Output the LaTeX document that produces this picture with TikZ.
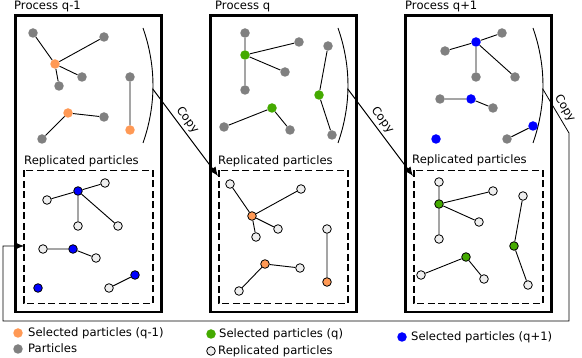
\documentclass[tikz,border=0pt]{standalone}
\usepackage{fontspec}
\setmainfont{DejaVu Sans}
\usetikzlibrary{arrows.meta}
\definecolor{selq1}{RGB}{255,153,85}
\definecolor{selq}{RGB}{68,170,0}
\definecolor{selqp}{RGB}{0,0,255}
\definecolor{partgray}{RGB}{128,128,128}
\definecolor{repwhite}{RGB}{238,238,238}
\begin{document}
\begin{tikzpicture}[x=1pt,y=-1pt,
  font=\fontsize{11.6}{14}\selectfont,
  dot/.style={circle,inner sep=0pt,minimum size=9.5pt},
  gp/.style={dot,fill=partgray},
  op/.style={dot,fill=selq1},
  gnp/.style={dot,fill=selq},
  bp/.style={dot,fill=selqp},
  rw/.style={circle,inner sep=0pt,minimum size=8.6pt,draw=black,line width=0.8pt,fill=repwhite},
  ro/.style={rw,fill=selq1},
  rg/.style={rw,fill=selq},
  rb/.style={rw,fill=selqp},
  link/.style={line width=0.9pt},
  frame/.style={line width=2.7pt},
  repbox/.style={line width=1.8pt,dash pattern=on 7pt off 3.5pt},
  arcline/.style={line width=0.9pt},
  copyline/.style={line width=1pt,-{Latex[length=9pt,width=7.5pt]}},
  retline/.style={line width=0.8pt,draw=black,-{Latex[length=9pt,width=7.5pt]}},
  lbl/.style={anchor=base west,inner sep=0pt},
  copylbl/.style={sloped,above,inner sep=3pt}
]
\useasboundingbox (0,0) rectangle (582,358);

% frames
\draw[frame] (15.3,15.3) rectangle (161.3,312);
\draw[repbox] (23.8,170.5) rectangle (152.8,303.5);
\draw[frame] (210.3,15.3) rectangle (356.3,312);
\draw[repbox] (218.8,170.5) rectangle (347.8,303.5);
\draw[frame] (405.3,15.3) rectangle (551.3,312);
\draw[repbox] (413.8,170.5) rectangle (542.8,303.5);

% labels
\node[lbl] (t1) at (14,9.5) {Process q-1};
\node[lbl] (t2) at (215,9.5) {Process q};
\node[lbl] (t3) at (405,9.5) {Process q+1};
\node[lbl] (r1l) at (24,165) {Replicated particles};
\node[lbl] (r2l) at (218,164.5) {Replicated particles};
\node[lbl] (r3l) at (412,163.5) {Replicated particles};

% arcs
\draw[arcline] (143,28) .. controls (156.3,66) and (156.3,105) .. (143,143);
\draw[arcline] (338,28) .. controls (351.3,66) and (351.3,105) .. (338,143);
\draw[arcline] (533,28) .. controls (546.3,66) and (546.3,105) .. (533,143);
\coordinate (cs1) at (152.8,89);
\coordinate (cs2) at (347.8,89);
\coordinate (cs3) at (542.8,89);
\coordinate (ct2) at (218,176);
\coordinate (ct3) at (413,176);
\coordinate (rb1) at (569,133);
\coordinate (rb2) at (569,321);
\coordinate (rb3) at (3,321);
\coordinate (rb4) at (3,246);
\coordinate (ct1) at (24,246);

\draw[copyline] (cs1) -- node[copylbl,pos=0.42] {Copy} (ct2);
\draw[copyline] (cs2) -- node[copylbl,pos=0.42] {Copy} (ct3);
\draw[retline] (cs3) -- node[copylbl,pos=0.55] {Copy} (rb1) -- (rb2) -- (rb3) -- (rb4) -- (ct1);

% process q-1 top
\node[gp] (a1) at (33,33) {};
\node[gp] (a2) at (104,37) {};
\node[op] (A) at (55,64) {};
\node[gp] (a3) at (82,77) {};
\node[gp] (a4) at (59,86) {};
\node[gp] (b1) at (130,77) {};
\node[op] (B) at (130,130) {};
\node[op] (C) at (68,113) {};
\node[gp] (c1) at (104,117) {};
\node[gp] (c2) at (42,139) {};
\draw[link] (A) -- (a1) (A) -- (a2) (A) -- (a3) (A) -- (a4) (b1) -- (B) (C) -- (c1) (C) -- (c2);

% process q-1 replicated
\node[rb] (D) at (78,191) {};
\node[rw] (d1) at (47,200) {};
\node[rw] (d2) at (105,183) {};
\node[rw] (d3) at (78,226) {};
\node[rw] (d4) at (118,226) {};
\node[rb] (E) at (73,249) {};
\node[rw] (e1) at (43,249) {};
\node[rw] (e2) at (96,258) {};
\node[rb] (F) at (38,288) {};
\node[rb] (G) at (135,275) {};
\node[rw] (g1) at (109,288) {};
\draw[link] (D) -- (d1) (D) -- (d2) (D) -- (d3) (D) -- (d4) (E) -- (e1) (E) -- (e2) (G) -- (g1);

% process q top
\node[gnp] (H) at (245,55) {};
\node[gp] (h1) at (245,33) {};
\node[gp] (h2) at (299,42) {};
\node[gp] (h3) at (285,72) {};
\node[gp] (h4) at (245,90) {};
\node[gnp] (I) at (319,95) {};
\node[gp] (i1) at (328,46) {};
\node[gp] (i2) at (332,135) {};
\node[gnp] (J) at (272,108) {};
\node[gp] (j1) at (224,127) {};
\node[gp] (j2) at (290,130) {};
\draw[link] (H) -- (h1) (H) -- (h2) (H) -- (h3) (H) -- (h4) (I) -- (i1) (I) -- (i2) (J) -- (j1) (J) -- (j2);

% process q replicated
\node[ro] (P) at (252,216) {};
\node[rw] (p1) at (230,184) {};
\node[rw] (p2) at (301,189) {};
\node[rw] (p3) at (278,229) {};
\node[rw] (p4) at (256,237) {};
\node[rw] (q1) at (327,229) {};
\node[ro] (Q) at (327,282) {};
\node[ro] (R) at (265,264) {};
\node[rw] (rr1) at (300,268) {};
\node[rw] (rr2) at (239,291) {};
\draw[link] (P) -- (p1) (P) -- (p2) (P) -- (p3) (P) -- (p4) (q1) -- (Q) (R) -- (rr1) (R) -- (rr2);

% process q+1 top
\node[bp] (K) at (476,42) {};
\node[gp] (k1) at (445,51) {};
\node[gp] (k2) at (502,33) {};
\node[gp] (k3) at (476,77) {};
\node[gp] (k4) at (515,77) {};
\node[bp] (L) at (471,99) {};
\node[gp] (l1) at (440,99) {};
\node[gp] (l2) at (493,108) {};
\node[bp] (M) at (436,139) {};
\node[bp] (N) at (533,126) {};
\node[gp] (n1) at (507,139) {};
\draw[link] (K) -- (k1) (K) -- (k2) (K) -- (k3) (K) -- (k4) (L) -- (l1) (L) -- (l2) (N) -- (n1);

% process q+1 replicated
\node[rg] (S) at (439,204) {};
\node[rw] (s1) at (439,182) {};
\node[rw] (s2) at (493,191) {};
\node[rw] (s3) at (479,222) {};
\node[rw] (s4) at (439,239) {};
\node[rg] (T) at (514,246) {};
\node[rw] (tt1) at (523,196) {};
\node[rw] (tt2) at (528,285) {};
\node[rg] (U) at (466,257) {};
\node[rw] (u1) at (421,275) {};
\node[rw] (u2) at (484,279) {};
\draw[link] (S) -- (s1) (S) -- (s2) (S) -- (s3) (S) -- (s4) (T) -- (tt1) (T) -- (tt2) (U) -- (u1) (U) -- (u2);

% legend
\node[op] (lg1) at (18,333) {};
\node[lbl] (lt1) at (28,337) {Selected particles (q-1)};
\node[gp] (lg2) at (18,349) {};
\node[lbl] (lt2) at (28,353) {Particles};
\node[gnp] (lg3) at (211,334) {};
\node[lbl] (lt3) at (219,338) {Selected particles (q)};
\node[rw] (lg4) at (211,351) {};
\node[lbl] (lt4) at (218,355) {Replicated particles};
\node[bp] (lg5) at (402,337) {};
\node[lbl] (lt5) at (411,341) {Selected particles (q+1)};
\end{tikzpicture}
\end{document}
